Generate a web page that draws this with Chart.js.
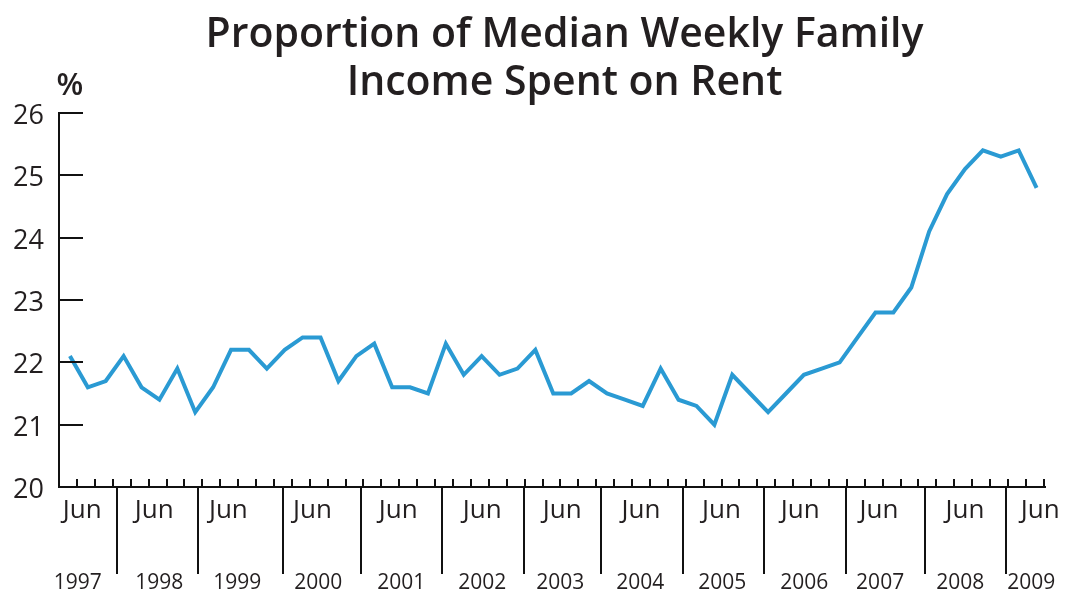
<!DOCTYPE html>
<html><head><meta charset="utf-8">
<script src="https://cdn.jsdelivr.net/npm/chart.js@4/dist/chart.umd.min.js"></script>
<style>html,body{margin:0;padding:0;background:#fff;}#wrap{width:1070px;height:592px;}</style>
</head><body><div id="wrap"><canvas id="c" width="1070" height="592"></canvas></div>
<script>
// ---- data ----
const titleLines = ['Proportion of Median Weekly Family', 'Income Spent on Rent'];
const yUnit = '%';
const rentShare = [22.1,21.6,21.7,22.1,21.6,21.4,21.9,21.2,21.6,22.2,22.2,21.9,22.2,22.4,22.4,21.7,22.1,22.3,21.6,21.6,
  21.5,22.3,21.8,22.1,21.8,21.9,22.2,21.5,21.5,21.7,21.5,21.4,21.3,21.9,21.4,21.3,21.0,21.8,21.5,21.2,
  21.5,21.8,21.9,22.0,22.4,22.8,22.8,23.2,24.1,24.7,25.1,25.4,25.3,25.4,24.8];
const yTicks = [20,21,22,23,24,25,26];
const yearLabels = ['1997','1998','1999','2000','2001','2002','2003','2004','2005','2006','2007','2008','2009'];
const monthLabel = 'Jun';
// positions on the period index scale
const yearBoundaries = [2.64,7.18,11.92,16.28,20.80,25.39,29.68,34.26,38.79,43.37,47.78,52.31];
const junPositions = [0.69,4.71,8.85,13.55,18.34,23.03,27.5,31.9,36.4,40.8,45.2,50.0,54.2];
const yearLabelPositions = [0.44,4.99,9.35,13.87,18.51,23.03,27.39,31.86,36.44,41.02,45.26,49.73,53.70];

const TEXT = '#231f20';
const AX = '#111';

const decor = {
  id: 'decor',
  afterDraw(chart) {
    const ctx = chart.ctx, ca = chart.chartArea;
    const xs = chart.scales.x, ys = chart.scales.y;
    ctx.save();
    // title
    ctx.fillStyle = TEXT;
    ctx.textAlign = 'center';
    ctx.textBaseline = 'alphabetic';
    ctx.font = '600 41px "Open Sans"';
    const cx = (ca.left + chart.width) / 2;
    ctx.fillText(titleLines[0], cx, 47);
    ctx.fillText(titleLines[1], cx, 95);
    // unit
    ctx.font = '600 31px "Open Sans"';
    ctx.fillText(yUnit, 70, 95);
    // y ticks inward + labels
    ctx.strokeStyle = AX; ctx.lineWidth = 2;
    ctx.font = '500 27px "Open Sans"';
    ctx.textAlign = 'right'; ctx.textBaseline = 'middle';
    yTicks.forEach(v => {
      const y = Math.round(ys.getPixelForValue(v));
      if (v !== yTicks[0]) {
        ctx.beginPath(); ctx.moveTo(ca.left, y); ctx.lineTo(ca.left + 24, y); ctx.stroke();
      }
      ctx.fillText(String(v), 44, y + 3);
    });
    // x minor ticks
    for (let i = 0; i < rentShare.length; i++) {
      const x = Math.round(xs.getPixelForValue(i + 0.4));
      if (x > ca.right + 1) continue;
      ctx.beginPath(); ctx.moveTo(x, ca.bottom); ctx.lineTo(x, ca.bottom - 8); ctx.stroke();
    }
    // year dividers
    yearBoundaries.forEach(b => {
      const x = Math.round(xs.getPixelForValue(b));
      ctx.beginPath(); ctx.moveTo(x, ca.bottom); ctx.lineTo(x, 574); ctx.stroke();
    });
    // Jun labels
    ctx.textAlign = 'center'; ctx.textBaseline = 'alphabetic';
    ctx.font = '26px "Open Sans"';
    junPositions.forEach(p => ctx.fillText(monthLabel, xs.getPixelForValue(p), 518));
    // year labels
    ctx.font = '21px "Open Sans"';
    yearLabels.forEach((t, k) => ctx.fillText(t, xs.getPixelForValue(yearLabelPositions[k]), 589));
    ctx.restore();
  }
};

new Chart(document.getElementById('c'), {
  type: 'line',
  data: {
    datasets: [{
      data: rentShare.map((v, i) => ({x: i, y: v})),
      borderColor: '#2a9ad3',
      borderWidth: 4,
      pointRadius: 0,
      tension: 0,
      fill: false
    }]
  },
  options: {
    responsive: false,
    devicePixelRatio: 1,
    animation: false,
    layout: {padding: {left: 59, right: 25, top: 113, bottom: 105}},
    plugins: {legend: {display: false}, title: {display: false}, tooltip: {enabled: false}},
    scales: {
      x: {type: 'linear', min: -0.61, max: 54.47,
          grid: {display: false, drawTicks: false}, ticks: {display: false},
          border: {display: true, color: AX, width: 2}},
      y: {type: 'linear', min: 20, max: 26,
          grid: {display: false, drawTicks: false}, ticks: {display: false},
          border: {display: true, color: AX, width: 2}}
    }
  },
  plugins: [decor]
});
</script>
</body></html>
